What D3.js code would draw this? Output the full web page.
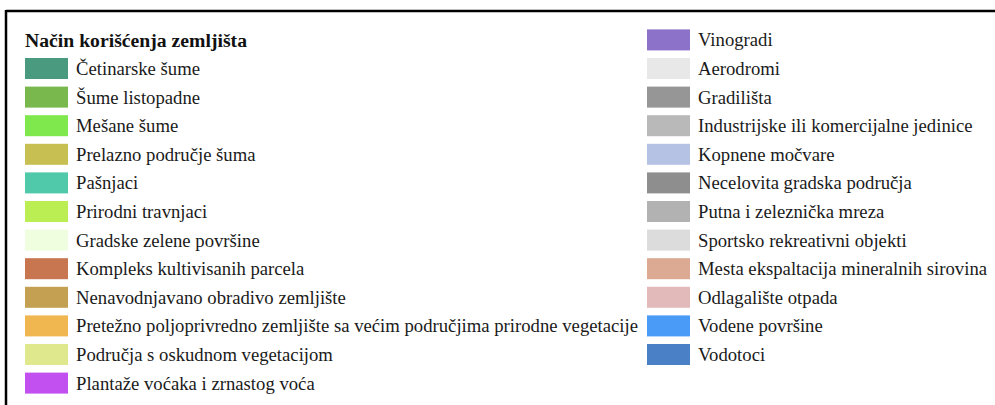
<!DOCTYPE html>
<html>
<head>
<meta charset="utf-8">
<script src="https://cdn.jsdelivr.net/npm/d3@7"></script>
<style>
  html, body { margin: 0; padding: 0; background: #fff; }
  svg { display: block; }
  svg text { font-family: "Liberation Serif", "Times New Roman", Times, serif; }
</style>
</head>
<body>
<svg id="chart" width="995" height="405"></svg>
<script>
const legendTitle = "Način korišćenja zemljišta";

const categories = [
  "Četinarske šume",
  "Šume listopadne",
  "Mešane šume",
  "Prelazno područje šuma",
  "Pašnjaci",
  "Prirodni travnjaci",
  "Gradske zelene površine",
  "Kompleks kultivisanih parcela",
  "Nenavodnjavano obradivo zemljište",
  "Pretežno poljoprivredno zemljište sa većim područjima prirodne vegetacije",
  "Područja s oskudnom vegetacijom",
  "Plantaže voćaka i zrnastog voća",
  "Vinogradi",
  "Aerodromi",
  "Gradilišta",
  "Industrijske ili komercijalne jedinice",
  "Kopnene močvare",
  "Necelovita gradska područja",
  "Putna i zeleznička mreza",
  "Sportsko rekreativni objekti",
  "Mesta ekspaltacija mineralnih sirovina",
  "Odlagalište otpada",
  "Vodene površine",
  "Vodotoci"
];

const colors = [
  "#4a9a80", "#78b84c", "#7ee84c", "#c8bf52", "#50c8aa", "#baee52",
  "#effedf", "#c87650", "#c4a052", "#f0b650", "#e0e88e", "#c250f0",
  "#8c72c8", "#e8e8e8", "#969696", "#b9b9b9", "#b6c2e4", "#8e8e8e",
  "#b2b2b2", "#dcdcdc", "#dcaa92", "#e2baba", "#4a9af8", "#4a80c6"
];

const svg = d3.select("#chart");
const W = 995, H = 405;

svg.append("line").attr("x1", 6).attr("x2", W).attr("y1", 11).attr("y2", 11)
  .attr("stroke", "#000").attr("stroke-width", 2.5);
svg.append("line").attr("x1", 6).attr("x2", 6).attr("y1", 10).attr("y2", H)
  .attr("stroke", "#000").attr("stroke-width", 2.5);

const slots = [{ title: true, label: legendTitle }]
  .concat(categories.map((c, i) => ({ label: c, color: colors[i] })));
const rowsPerCol = 13;

const y = d3.scaleLinear().domain([0, 1]).range([29.4, 29.4 + 28.6]);
const colX = d3.scaleOrdinal().domain([0, 1]).range([25, 647]);

const sw = 43, sh = 21;
const fontSize = 18.7;
const titleSize = 19.7;

const g = svg.append("g");
const items = g.selectAll("g.item").data(slots).join("g")
  .attr("class", "item")
  .attr("transform", (d, i) => {
    const col = Math.floor(i / rowsPerCol), row = i % rowsPerCol;
    return `translate(${colX(col)},${y(row)})`;
  });

items.filter(d => d.title).append("text")
  .attr("x", 0).attr("y", sh / 2)
  .attr("dy", "0.35em")
  .style("font-size", titleSize + "px")
  .style("font-weight", "bold")
  .attr("fill", "#111")
  .text(d => d.label);

const nonTitle = items.filter(d => !d.title);
nonTitle.append("rect")
  .attr("x", 0).attr("y", 0).attr("width", sw).attr("height", sh)
  .attr("fill", d => d.color);
nonTitle.append("text")
  .attr("x", sw + 8).attr("y", sh / 2)
  .attr("dy", "0.35em")
  .style("font-size", fontSize + "px")
  .attr("fill", "#1a1a1a")
  .text(d => d.label);
</script>
</body>
</html>
